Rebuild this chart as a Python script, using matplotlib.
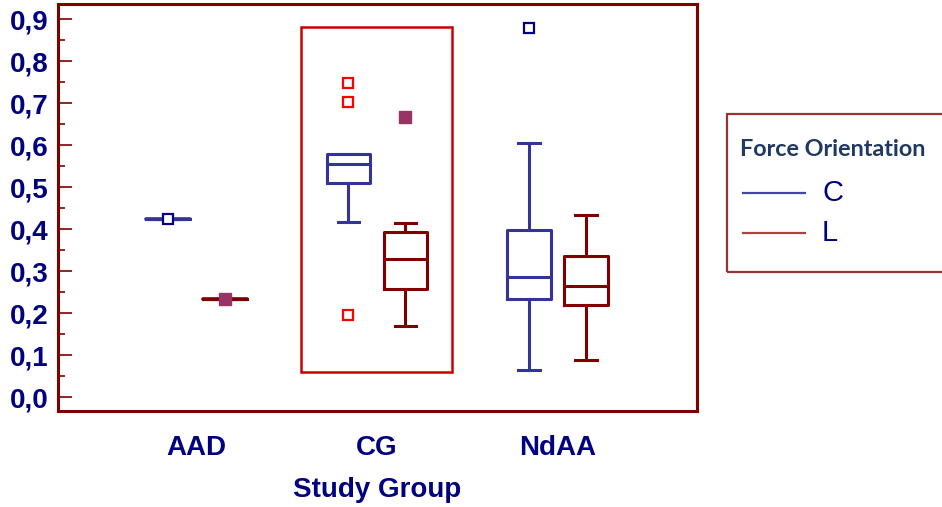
import numpy as np
import matplotlib
matplotlib.use('Agg')
import matplotlib.pyplot as plt
from matplotlib.patches import Rectangle
from matplotlib.lines import Line2D
from matplotlib.ticker import MultipleLocator, FuncFormatter

# data (box stats per group)
groups = ['AAD', 'CG', 'NdAA']
series = ['C', 'L']

c_whislo = [0.424, 0.417, 0.064]
c_q1 = [0.424, 0.511, 0.234]
c_med = [0.424, 0.556, 0.286]
c_q3 = [0.424, 0.580, 0.398]
c_whishi = [0.424, 0.578, 0.606]
c_fliers = [[0.424], [0.748, 0.702, 0.196], [0.880]]
c_flier_col = ['#000080', '#FF0000', '#000080']

l_whislo = [0.233, 0.169, 0.088]
l_q1 = [0.233, 0.258, 0.219]
l_med = [0.233, 0.328, 0.265]
l_q3 = [0.233, 0.393, 0.335]
l_whishi = [0.233, 0.415, 0.434]
l_fliers = [[0.233], [0.667], []]

navy = '#000080'
blue = '#333399'
dred = '#800000'
purple = '#993366'

plt.rcParams['font.family'] = ['Liberation Sans', 'DejaVu Sans']

fig = plt.figure(figsize=(9.42, 5.07), dpi=100)
ax = fig.add_axes([58/942, 96/507, (697-58)/942, (411-4)/507])

pos = np.arange(1, len(groups) + 1)
off = 0.158
w = 0.24


def stats(lo, q1, med, q3, hi):
    return [dict(whislo=a, q1=b, med=c, q3=d, whishi=e, fliers=[])
            for a, b, c, d, e in zip(lo, q1, med, q3, hi)]


for st, p, col in [(stats(c_whislo, c_q1, c_med, c_q3, c_whishi), pos - off, blue),
                   (stats(l_whislo, l_q1, l_med, l_q3, l_whishi), pos + off, dred)]:
    lp = dict(color=col, linewidth=2.2)
    ax.bxp(st, positions=p, widths=w, showfliers=False,
           boxprops=lp, whiskerprops=lp, medianprops=lp,
           capprops=lp, capwidths=w / 2, manage_ticks=False)

# degenerate AAD boxes drawn as a full-width line
for p, v, col in [(pos[0] - off, c_med[0], blue), (pos[0] + off, l_med[0], dred)]:
    ax.plot([p - w / 2, p + w / 2], [v, v], color=col, lw=2.6, solid_capstyle='round')

# outliers
for i in range(len(groups)):
    for v in c_fliers[i]:
        ax.plot(pos[i] - off, v, marker='s', ms=7, mfc='white',
                mec=c_flier_col[i], mew=1.6, zorder=5)
    for v in l_fliers[i]:
        ax.plot(pos[i] + off, v, marker='s', ms=8, mfc=purple,
                mec=purple, zorder=5)

# highlight box around CG
ax.add_patch(Rectangle((pos[1] - 0.42, 0.059), 0.835, 0.823, fill=False,
                       edgecolor='#CC0000', lw=1.8, zorder=1))

ax.set_xlim(0.233, 3.773)
ax.set_ylim(-0.033, 0.936)
ax.yaxis.set_major_locator(MultipleLocator(0.1))
ax.yaxis.set_minor_locator(MultipleLocator(0.05))
ax.yaxis.set_major_formatter(FuncFormatter(lambda v, p: f'{v:.1f}'.replace('.', ',')))
ax.tick_params(axis='y', which='major', direction='in', length=10, width=1.2,
               color=dred, labelsize=20, labelcolor=navy, pad=7)
ax.tick_params(axis='y', which='minor', direction='in', length=5, width=1.2, color=dred)
ax.set_xticks(pos)
ax.set_xticklabels(groups)
ax.tick_params(axis='x', length=0, labelsize=20, labelcolor=navy, pad=17)
for lab in ax.get_xticklabels() + ax.get_yticklabels():
    lab.set_fontweight('bold')
ax.set_xlabel('Study Group', fontsize=20, fontweight='bold', color=navy, labelpad=12)

for s in ax.spines.values():
    s.set_color(dred)
    s.set_linewidth(2.2)

# legend box, runs off the right edge
fig.patches.append(Rectangle((727/942, 1 - 272/507), 220/942, 158/507,
                             transform=fig.transFigure, fill=False,
                             edgecolor='#993333', lw=1.6, clip_on=False))
fig.text(740/942, 1 - 149/507, 'Force Orientation', family=['Lato', 'DejaVu Sans'],
         fontweight='bold', fontsize=16.8, color='#1F3864', va='center')
for y, col, lab in [(193, '#4444AA', 'C'), (233, '#AA4444', 'L')]:
    fig.lines.append(Line2D([743/942, 805/942], [1 - y/507, 1 - y/507],
                            transform=fig.transFigure, color=col, lw=1.6))
    fig.text(822/942, 1 - y/507, lab, fontsize=21, color=navy, va='center')

fig.savefig('out.png', dpi=100)
